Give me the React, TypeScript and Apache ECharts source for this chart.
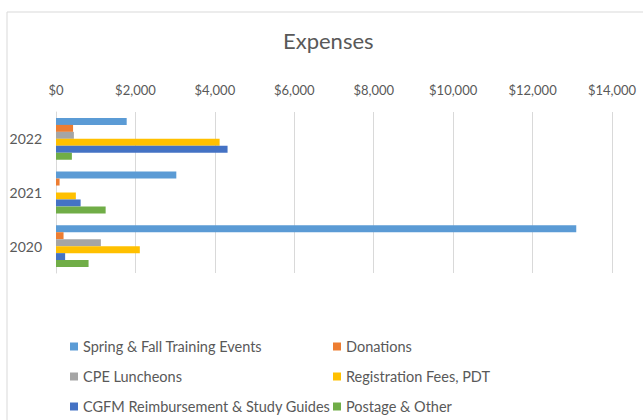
import React, { useEffect, useRef } from "react";
import * as echarts from "echarts";

const categories = ["2020", "2021", "2022"];
const seriesNames = [
  "Spring & Fall Training Events",
  "Donations",
  "CPE Luncheons",
  "Registration Fees, PDT",
  "CGFM Reimbursement & Study Guides",
  "Postage & Other",
];
const spring = [13100, 3030, 1780];
const donations = [190, 90, 430];
const cpe = [1130, 0, 450];
const registration = [2110, 500, 4120];
const cgfm = [230, 620, 4320];
const postage = [820, 1250, 400];
const colors = ["#5B9BD5", "#ED7D31", "#A5A5A5", "#FFC000", "#4472C4", "#70AD47"];
const xTicks = { min: 0, max: 14000, interval: 2000 };

const FONT = "Lato, 'Open Sans', sans-serif";
const TXT = "#595959";

export default function App() {
  const ref = useRef<HTMLDivElement>(null);
  useEffect(() => {
    if (!ref.current) return;
    const chart = echarts.init(ref.current, null, { renderer: "svg" });
    const values = [spring, donations, cpe, registration, cgfm, postage];
    const series = values.map((v, i) => ({
      name: seriesNames[i],
      type: "bar" as const,
      data: v,
      barGap: "0%",
      barCategoryGap: "22%",
      itemStyle: { color: colors[i] },
    }));
    const legendPos = [
      [70, 339],
      [333, 339],
      [70, 369],
      [333, 369],
      [70, 399],
      [333, 399],
    ];
    chart.setOption({
      animation: false,
      backgroundColor: "#fff",
      color: colors,
      title: {
        text: "Expenses",
        left: 283,
        top: 29,
        padding: 0,
        textStyle: { fontFamily: FONT, fontSize: 22, fontWeight: "normal", color: TXT },
      },
      graphic: [
        {
          type: "rect",
          shape: { x: 7, y: 12, width: 700, height: 500 },
          style: { fill: "none", stroke: "#d9d9d9", lineWidth: 1 },
          silent: true,
        },
      ],
      legend: seriesNames.map((n, i) => ({
        data: [n],
        left: legendPos[i][0],
        top: legendPos[i][1],
        padding: 0,
        icon: "rect",
        itemWidth: 8,
        itemHeight: 8,
        textStyle: { fontFamily: FONT, fontSize: 14.5, color: TXT },
      })),
      grid: { left: 56, right: 31, top: 112, bottom: 147, containLabel: false },
      xAxis: {
        type: "value",
        position: "top",
        min: xTicks.min,
        max: xTicks.max,
        interval: xTicks.interval,
        axisLine: { show: false },
        axisTick: { show: false },
        splitLine: { lineStyle: { color: "#d9d9d9" } },
        axisLabel: {
          margin: 16,
          fontFamily: FONT,
          fontSize: 13,
          color: TXT,
          formatter: (v: number) => "$" + v.toLocaleString("en-US"),
        },
      },
      yAxis: {
        type: "category",
        data: categories,
        axisLine: { show: true, lineStyle: { color: "#d9d9d9" } },
        axisTick: { show: false },
        axisLabel: { margin: 14, fontFamily: FONT, fontSize: 14, color: TXT },
      },
      series,
    });
    return () => chart.dispose();
  }, []);
  return (
    <div
      ref={ref}
      style={{ position: "fixed", left: 0, top: 0, width: 643, height: 420 }}
    />
  );
}
